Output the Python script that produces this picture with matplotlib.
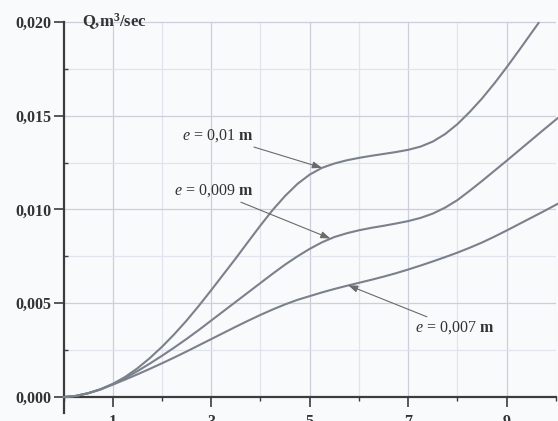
import matplotlib
matplotlib.use("Agg")
import matplotlib.pyplot as plt
from matplotlib.ticker import MultipleLocator, FixedLocator, FixedFormatter

# ---- data ----
x_e010 = [0, 0.25, 0.5, 0.75, 1, 1.25, 1.5, 1.75, 2, 2.25, 2.5, 2.75, 3, 3.25, 3.5, 3.75, 4,
          4.25, 4.5, 4.75, 5, 5.25, 5.5, 5.75, 6, 6.25, 6.5, 6.75, 7, 7.25, 7.5, 7.75, 8,
          8.25, 8.5, 8.75, 9, 9.25, 9.5, 9.65]
q_e010 = [0, 0.00006, 0.00020, 0.00041, 0.00070, 0.00107, 0.00153, 0.00207, 0.00268, 0.00335,
          0.00408, 0.00487, 0.00570, 0.00655, 0.00740, 0.00828, 0.00915, 0.00998, 0.01072,
          0.01136, 0.01186, 0.01222, 0.01245, 0.01262, 0.01275, 0.01286, 0.01296, 0.01306,
          0.01318, 0.01335, 0.01362, 0.01402, 0.01455, 0.01520, 0.01592, 0.01672, 0.01758,
          0.01848, 0.01940, 0.01995]

x_e009 = [0, 0.25, 0.5, 0.75, 1, 1.25, 1.5, 1.75, 2, 2.25, 2.5, 2.75, 3, 3.25, 3.5, 3.75, 4,
          4.25, 4.5, 4.75, 5, 5.25, 5.5, 5.75, 6, 6.25, 6.5, 6.75, 7, 7.25, 7.5, 7.75, 8,
          8.25, 8.5, 8.75, 9, 9.25, 9.5, 9.75, 10.05]
q_e009 = [0, 0.00006, 0.00021, 0.00042, 0.00069, 0.00101, 0.00138, 0.00178, 0.00220, 0.00264,
          0.00310, 0.00358, 0.00408, 0.00458, 0.00508, 0.00558, 0.00608, 0.00658, 0.00706,
          0.00750, 0.00790, 0.00825, 0.00853, 0.00873, 0.00889, 0.00902, 0.00913, 0.00925,
          0.00938, 0.00955, 0.00978, 0.01010, 0.01050, 0.01100, 0.01152, 0.01206, 0.01260,
          0.01315, 0.01370, 0.01425, 0.01490]

x_e007 = [0, 0.25, 0.5, 0.75, 1, 1.25, 1.5, 1.75, 2, 2.25, 2.5, 2.75, 3, 3.25, 3.5, 3.75, 4,
          4.25, 4.5, 4.75, 5, 5.25, 5.5, 5.75, 6, 6.25, 6.5, 6.75, 7, 7.25, 7.5, 7.75, 8,
          8.25, 8.5, 8.75, 9, 9.25, 9.5, 9.75, 10.05]
q_e007 = [0, 0.00006, 0.00020, 0.00040, 0.00066, 0.00093, 0.00121, 0.00150, 0.00180, 0.00211,
          0.00243, 0.00276, 0.00309, 0.00342, 0.00375, 0.00407, 0.00438, 0.00467, 0.00494,
          0.00518, 0.00538, 0.00558, 0.00576, 0.00593, 0.00609, 0.00625, 0.00642, 0.00660,
          0.00680, 0.00701, 0.00723, 0.00746, 0.00770, 0.00796, 0.00824, 0.00855, 0.00888,
          0.00922, 0.00956, 0.00990, 0.01032]

y_ticks = [0.000, 0.005, 0.010, 0.015, 0.020]
y_tick_labels = ["0,000", "0,005", "0,010", "0,015", "0,020"]
x_ticks = [1, 3, 5, 7, 9]
x_tick_labels = ["1", "3", "5", "7", "9"]

labels = [r"$e$ = 0,01 $\mathbf{m}$", r"$e$ = 0,009 $\mathbf{m}$", r"$e$ = 0,007 $\mathbf{m}$"]
y_title = r"Q,m$^{\mathbf{3}}$/sec"

# ---- style ----
plt.rcParams["font.family"] = ["Liberation Serif", "DejaVu Serif"]
plt.rcParams["mathtext.fontset"] = "custom"
plt.rcParams["mathtext.rm"] = "Liberation Serif"
plt.rcParams["mathtext.it"] = "Liberation Serif:italic"
plt.rcParams["mathtext.bf"] = "Liberation Serif:bold"

bg = "#f9fafb"
fig = plt.figure(figsize=(5.58, 4.21), dpi=100, facecolor=bg)
ylo, yhi = -0.00085, 0.0201
ax = fig.add_axes([0.1138, 0.019, 0.8825, 0.9335])
ax.set_facecolor(bg)
ax.set_xlim(0, 10.0)
ax.set_ylim(ylo, yhi)

curve_color = "#7a818c"
for xs, qs in [(x_e010, q_e010), (x_e009, q_e009), (x_e007, q_e007)]:
    ax.plot(xs, qs, color=curve_color, lw=1.5, solid_capstyle="round",
            solid_joinstyle="round", zorder=3, clip_on=False)

# grid (major + minor), only above the x axis
y0frac = (0 - ylo) / (yhi - ylo)
y1frac = (0.020 - ylo) / (yhi - ylo)
for xv in range(1, 11):
    ax.axvline(xv, ymin=y0frac, ymax=y1frac, color="#c9d0dc" if xv % 2 else "#e0e4ec",
               lw=0.9, zorder=1)
for k in range(1, 9):
    yv = 0.0025 * k
    ax.axhline(yv, color="#c9d0dc" if k % 2 == 0 else "#e0e4ec", lw=0.9, zorder=1)

# spines
for s in ["top", "right"]:
    ax.spines[s].set_visible(False)
ax.spines["bottom"].set_position(("data", 0))
ax.spines["left"].set_bounds(ylo, 0.020)
for s in ["bottom", "left"]:
    ax.spines[s].set_color("#3c3c3c")
    ax.spines[s].set_linewidth(1.6)

ax.yaxis.set_major_locator(FixedLocator(y_ticks))
ax.yaxis.set_major_formatter(FixedFormatter(y_tick_labels))
ax.yaxis.set_minor_locator(MultipleLocator(0.0025))
ax.xaxis.set_major_locator(FixedLocator(x_ticks))
ax.xaxis.set_major_formatter(FixedFormatter(x_tick_labels))
ax.xaxis.set_minor_locator(MultipleLocator(1))
ax.tick_params(axis="y", which="major", direction="out", length=7, width=1.2, color="#3c3c3c",
               pad=2, labelsize=11.5, labelcolor="#333333")
ax.tick_params(axis="y", which="minor", direction="in", length=3, width=1.0, color="#3c3c3c")
ax.tick_params(axis="x", which="major", direction="out", length=7, width=1.2, color="#3c3c3c",
               pad=5, labelsize=11.5, labelcolor="#333333")
ax.tick_params(axis="x", which="minor", direction="out", length=3, width=1.0, color="#3c3c3c")
for lab in ax.get_xticklabels() + ax.get_yticklabels():
    lab.set_fontweight("bold")

ax.text(0.38, 0.0200, y_title, fontsize=12, fontweight="bold", color="#333333",
        ha="left", va="center")

arrow_kw = dict(arrowstyle="-|>,head_length=0.5,head_width=0.18", color="#6a6a6a", lw=0.8,
                shrinkA=0, shrinkB=0)
ax.annotate(labels[0], xy=(5.25, 0.01222), xytext=(3.85, 0.01392), fontsize=11.5,
            color="#333333", ha="right", va="center", arrowprops=arrow_kw, zorder=4)
ax.annotate(labels[1], xy=(5.42, 0.00845), xytext=(3.85, 0.01098), fontsize=11.5,
            color="#333333", ha="right", va="center", arrowprops=arrow_kw, zorder=4)
ax.annotate(labels[2], xy=(5.78, 0.00596), xytext=(7.14, 0.00413), fontsize=11.5,
            color="#333333", ha="left", va="top", arrowprops=arrow_kw, zorder=4)

fig.savefig("out.png", dpi=100, facecolor=bg)
